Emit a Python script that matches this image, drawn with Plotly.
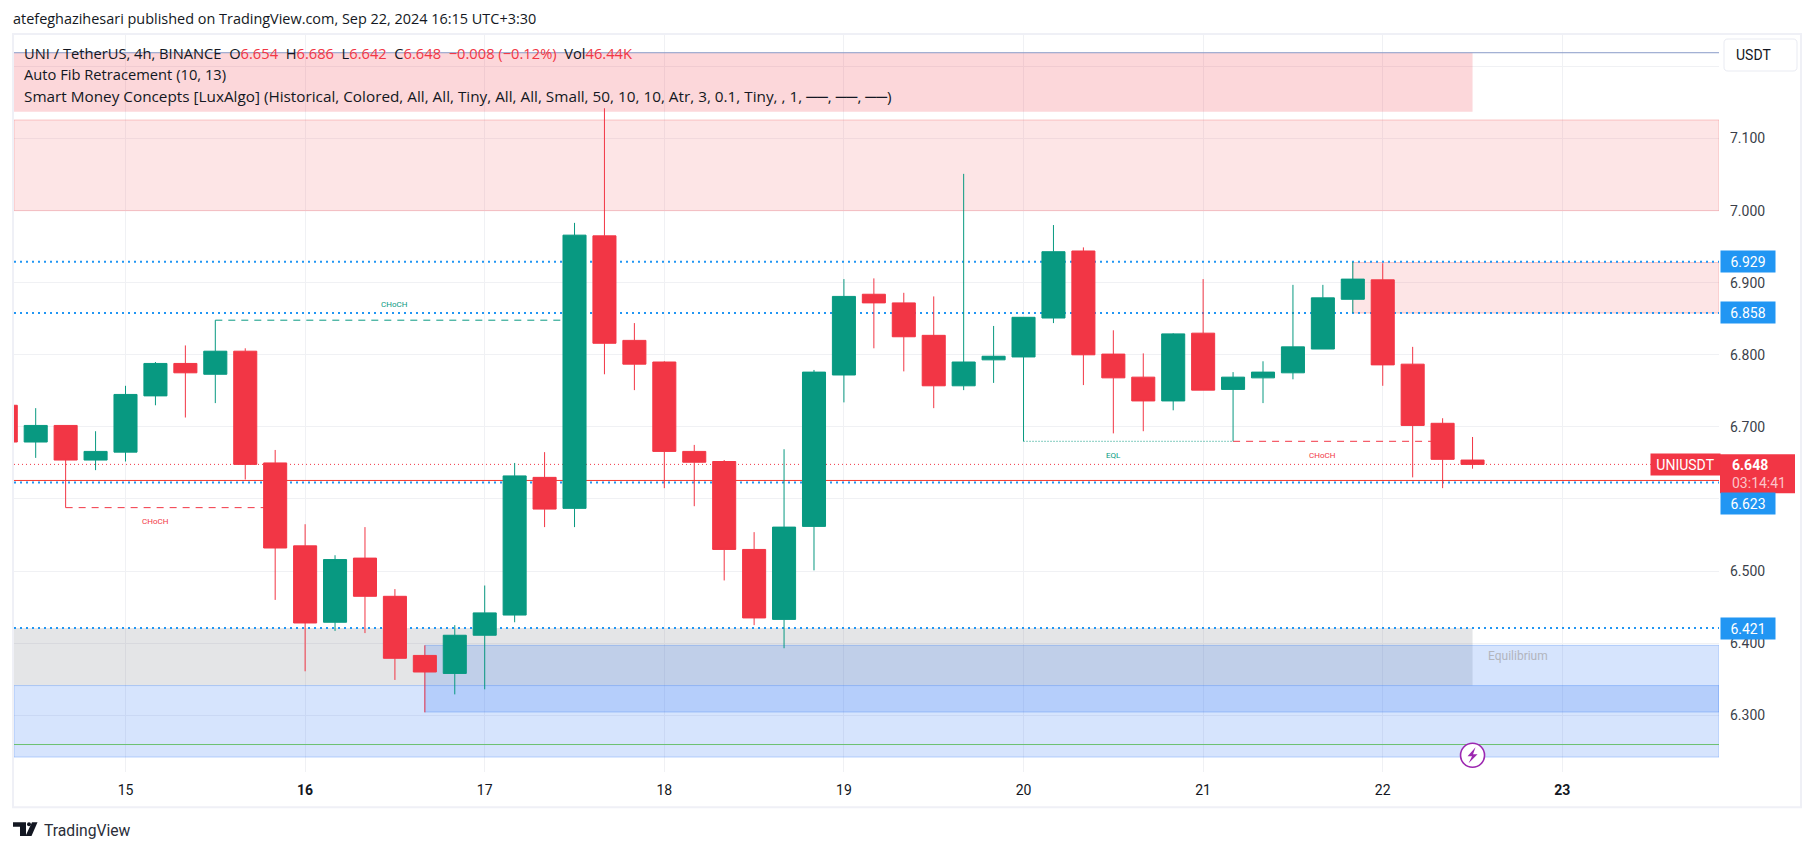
import pandas as pd
import plotly.graph_objects as go

# ---------- data ----------
times = pd.date_range("2024-09-14 08:00", periods=50, freq="4h")
opens = [6.730,6.679,6.702,6.654,6.665,6.743,6.788,6.773,6.805,6.650,6.535,6.429,6.518,6.465,6.383,6.358,6.411,6.439,6.630,6.587,
         6.965,6.820,6.790,6.666,6.652,6.530,6.433,6.562,6.772,6.884,6.872,6.827,6.757,6.793,6.797,6.851,6.944,6.801,6.769,6.736,
         6.830,6.752,6.768,6.775,6.808,6.877,6.904,6.787,6.705,6.654]
highs = [6.730,6.726,6.702,6.694,6.757,6.790,6.813,6.848,6.809,6.668,6.565,6.522,6.561,6.475,6.397,6.425,6.480,6.650,6.665,6.983,
         7.142,6.844,6.791,6.675,6.654,6.554,6.669,6.779,6.905,6.906,6.886,6.881,7.051,6.840,6.852,6.980,6.949,6.834,6.802,6.830,
         6.905,6.776,6.791,6.897,6.897,6.929,6.927,6.811,6.712,6.686]
lows  = [6.679,6.657,6.588,6.640,6.652,6.730,6.713,6.733,6.627,6.460,6.361,6.417,6.414,6.349,6.304,6.329,6.336,6.429,6.561,6.561,
         6.773,6.751,6.615,6.590,6.487,6.425,6.393,6.501,6.734,6.809,6.777,6.726,6.751,6.761,6.680,6.844,6.758,6.691,6.694,6.723,
         6.751,6.680,6.733,6.766,6.808,6.858,6.757,6.630,6.615,6.642]
closes= [6.679,6.702,6.654,6.666,6.745,6.788,6.775,6.805,6.648,6.532,6.428,6.516,6.465,6.379,6.360,6.411,6.442,6.632,6.586,6.966,
         6.816,6.787,6.666,6.651,6.530,6.435,6.561,6.776,6.881,6.872,6.825,6.757,6.790,6.798,6.852,6.943,6.800,6.768,6.736,6.829,
         6.751,6.769,6.776,6.811,6.879,6.905,6.786,6.702,6.655,6.648]

price_ticks = [6.3, 6.4, 6.5, 6.6, 6.7, 6.8, 6.9, 7.0, 7.1, 7.2]
price_labels = ["6.300","6.400","6.500","","6.700","6.800","6.900","7.000","7.100",""]
day_ticks = ["2024-09-%02d" % d for d in range(15, 24)]
day_labels = ["15","<b>16</b>","17","18","19","20","21","22","<b>23</b>"]

level_dotted = [6.929, 6.858, 6.623, 6.421]
last_price = 6.648
solid_red_level = 6.6257
top_line_level = 7.219
green_line_level = 6.2594

X_START, X_END = "2024-09-14 09:06", "2024-09-23 20:56"
Y_START, Y_END = 6.2213, 7.2436
# zones: x0, x1, y0, y1, fill, border
k45 = "2024-09-22 12:00"
zones = [
    (X_START, k45, 7.137, 7.219, "rgba(242,54,69,0.2)", None),
    (X_START, X_END, 7.000, 7.1257, "rgba(247,124,128,0.2)", "rgba(247,124,128,0.4)"),
    ("2024-09-21 20:00", X_END, 6.858, 6.928, "rgba(247,124,128,0.2)", "rgba(247,124,128,0.4)"),
    (X_START, k45, 6.3412, 6.421, "rgba(120,123,134,0.2)", None),
    ("2024-09-16 16:00", X_END, 6.3045, 6.397, "rgba(49,121,245,0.2)", "rgba(49,121,245,0.3)"),
    (X_START, X_END, 6.2420, 6.3412, "rgba(49,121,245,0.2)", "rgba(49,121,245,0.3)"),
]
# structure lines: x0, x1, y, colour, dash
structures = [
    ("2024-09-15 12:00", "2024-09-17 12:00", 6.848, "#089981", "7px,6px"),
    ("2024-09-14 16:00", "2024-09-15 20:00", 6.588, "#f23645", "7px,6px"),
    ("2024-09-21 04:00", "2024-09-22 08:00", 6.680, "#f23645", "7px,6px"),
    ("2024-09-20 00:00", "2024-09-21 04:00", 6.680, "#089981", "1px,2px"),
]
# structure labels: x, y, text, colour
structure_labels = [
    ("2024-09-16 12:00", 6.8695, "CHoCH", "#089981"),
    ("2024-09-15 04:00", 6.5687, "CHoCH", "#f23645"),
    ("2024-09-21 16:00", 6.661, "CHoCH", "#f23645"),
    ("2024-09-20 12:00", 6.661, "EQL", "#089981"),
]

# ---------- layout geometry ----------
W, H = 1814, 851
L, R, T, B = 14, 1719, 35, 771.7
FONT = "Roboto"
TEXT_FONT = "Open Sans"
INK = "#131722"
RED = "#f23645"
GREEN = "#089981"
BLUE = "#2196f3"

def px(x):
    return (x - L) / (R - L)

def py(y):
    return (B - y) / (B - T)

fig = go.Figure(go.Candlestick(
    x=times, open=opens, high=highs, low=lows, close=closes,
    increasing=dict(line=dict(color=GREEN, width=1), fillcolor=GREEN),
    decreasing=dict(line=dict(color=RED, width=1), fillcolor=RED),
    whiskerwidth=0, hoverinfo="skip", showlegend=False,
))

shapes = []
for x0, x1, y0, y1, fill, border in zones:
    shapes.append(dict(type="rect", layer="between", xref="x", yref="y", x0=x0, x1=x1, y0=y0, y1=y1,
                       fillcolor=fill, line=dict(color=border or "rgba(0,0,0,0)", width=1)))
def hline(y, color, width=1, dash="solid", x0=X_START, x1=X_END):
    shapes.append(dict(type="line", layer="between", xref="x", yref="y", x0=x0, x1=x1, y0=y, y1=y,
                       line=dict(color=color, width=width, dash=dash)))
hline(top_line_level, "#8a9cc8")
hline(green_line_level, "#6cc070")
for v in level_dotted:
    hline(v, BLUE, 2, "2px,4px")
hline(solid_red_level, "#f5392f")
hline(last_price, RED, 1, "1px,3px")
for x0, x1, y, c, d in structures:
    hline(y, c, 1, d, x0, x1)

# frame
shapes.append(dict(type="rect", layer="above", xref="paper", yref="paper",
                   x0=px(13), x1=px(1801), y0=py(807), y1=py(34),
                   line=dict(color="#eff0f6", width=2), fillcolor="rgba(0,0,0,0)"))
# USDT button
shapes.append(dict(type="path", layer="above", xref="paper", yref="paper",
                   path="M%f,%f L%f,%f Q%f,%f %f,%f L%f,%f Q%f,%f %f,%f L%f,%f Q%f,%f %f,%f L%f,%f Q%f,%f %f,%f Z" % (
                       px(1728), py(39), px(1793), py(39), px(1797), py(39), px(1797), py(43),
                       px(1797), py(67), px(1797), py(71), px(1793), py(71),
                       px(1728), py(71), px(1724), py(71), px(1724), py(67),
                       px(1724), py(43), px(1724), py(39), px(1728), py(39)),
                   fillcolor="white", line=dict(color="#e9ebf2", width=1)))
# lightning badge
shapes.append(dict(type="circle", layer="above", xref="x", yref="y", xsizemode="pixel", ysizemode="pixel",
                   xanchor=k45, yanchor=6.2445, x0=-12, x1=12, y0=-12, y1=12,
                   fillcolor="white", line=dict(color="#9c27b0", width=1.6)))
shapes.append(dict(type="path", layer="above", xref="x", yref="y", xsizemode="pixel", ysizemode="pixel",
                   xanchor=k45, yanchor=6.2445,
                   path="M 3,8 L -5,-1 L -0.5,-1 L -4,-8 L 5,1 L 0.5,1 Z",
                   fillcolor="#9c27b0", line=dict(color="#9c27b0", width=0)))
# TradingView logo
def poly(pts):
    return "M" + " L".join("%f,%f" % (px(a), py(b)) for a, b in pts) + " Z"
shapes.append(dict(type="path", layer="above", xref="paper", yref="paper",
                   path=poly([(13,822),(26,822),(26,835.7),(20,835.7),(20,826.5),(13,826.5)]),
                   fillcolor=INK, line=dict(width=0)))
shapes.append(dict(type="path", layer="above", xref="paper", yref="paper",
                   path=poly([(32,822),(37.5,822),(31.5,835.7),(25.5,835.7)]),
                   fillcolor=INK, line=dict(width=0)))
shapes.append(dict(type="circle", layer="above", xref="paper", yref="paper",
                   x0=px(27), x1=px(31), y0=py(822), y1=py(826), fillcolor=INK, line=dict(width=0)))
# last-price tag background
shapes.append(dict(type="rect", layer="above", xref="paper", yref="paper",
                   x0=px(1720), x1=px(1795), y0=py(493), y1=py(454), fillcolor=RED, line=dict(width=0)))

annotations = []
def note(x, y, text, size=13, color=INK, xanchor="left", yanchor="middle", xref="paper", yref="paper", family=FONT, **kw):
    annotations.append(dict(x=x, y=y, xref=xref, yref=yref, text=text, showarrow=False,
                            xanchor=xanchor, yanchor=yanchor, align=kw.pop("align", "left"),
                            font=dict(family=family, size=size, color=color), borderpad=0, **kw))

note(px(12), py(19), "atefeghazihesari published on TradingView.com, Sep 22, 2024 16:15 UTC+3:30", 14.45, family=TEXT_FONT)
def val(s):
    return '<span style="color:%s">%s</span>' % (RED, s)
note(px(23), py(53), "UNI / TetherUS, 4h, BINANCE  O%s  H%s  L%s  C%s  %s  Vol%s" % (
    val("6.654"), val("6.686"), val("6.642"), val("6.648"), val("−0.008 (−0.12%)"), val("46.44K")), 14.7, family=TEXT_FONT)
note(px(23), py(74), "Auto Fib Retracement (10, 13)", 14.7, family=TEXT_FONT)
note(px(23), py(96), "Smart Money Concepts [LuxAlgo] (Historical, Colored, All, All, Tiny, All, All, Small, 50, 10, 10, Atr, 3, 0.1, Tiny, , 1, ──, ──, ──)", 15.3, family=TEXT_FONT)
note(px(1735), py(55), "USDT", 14)
note(px(43), py(830), "TradingView", 15.7, "#2a2e39")

for x, y, t, c in structure_labels:
    note(x, y, t, 8, c, xanchor="center", xref="x", yref="y")
note(px(1518), py(656), "Equilibrium", 12, "#b2b5be", xanchor="center")

# price tags
for v in level_dotted:
    yy = v if v != 6.623 else 6.5935
    note(px(1720), yy, "%.3f" % v, 14, "white", yref="y", bgcolor=BLUE, width=54, height=21, align="center")
note(px(1731), py(465), "<b>6.648</b>", 14, "white")
note(px(1731), py(483), "03:14:41", 14, "#fbc4c9")
note(px(1650), last_price - 0.0005, "UNIUSDT", 14, "white", yref="y", bgcolor=RED, width=69, height=21, align="center")

fig.update_layout(
    width=W, height=H, autosize=False,
    margin=dict(l=L, r=W - R, t=T, b=H - B, pad=0),
    plot_bgcolor="white", paper_bgcolor="white",
    font=dict(family=FONT, size=14, color=INK),
    showlegend=False, dragmode=False, hovermode=False,
    boxgap=0.23, boxgroupgap=0,
    shapes=shapes, annotations=annotations,
    xaxis=dict(type="date", range=[X_START, X_END], tickmode="array", tickvals=day_ticks, ticktext=day_labels,
               showgrid=True, gridcolor="#f0f1f4", gridwidth=1, zeroline=False, showline=False, ticks="",
               ticklabelstandoff=8,
               rangeslider=dict(visible=False), tickfont=dict(size=14, color=INK), fixedrange=True),
    yaxis=dict(side="right", range=[Y_START, Y_END], tickmode="array", tickvals=price_ticks, ticktext=price_labels,
               showgrid=True, gridcolor="#f0f1f4", gridwidth=1, zeroline=False, showline=False, ticks="",
               ticklabelstandoff=10, tickfont=dict(size=14, color="#3b3f4a"), fixedrange=True),
)

fig.write_html("out.html", config=dict(displayModeBar=False),
               post_script="document.body.style.margin='0';document.body.style.overflow='hidden';")
